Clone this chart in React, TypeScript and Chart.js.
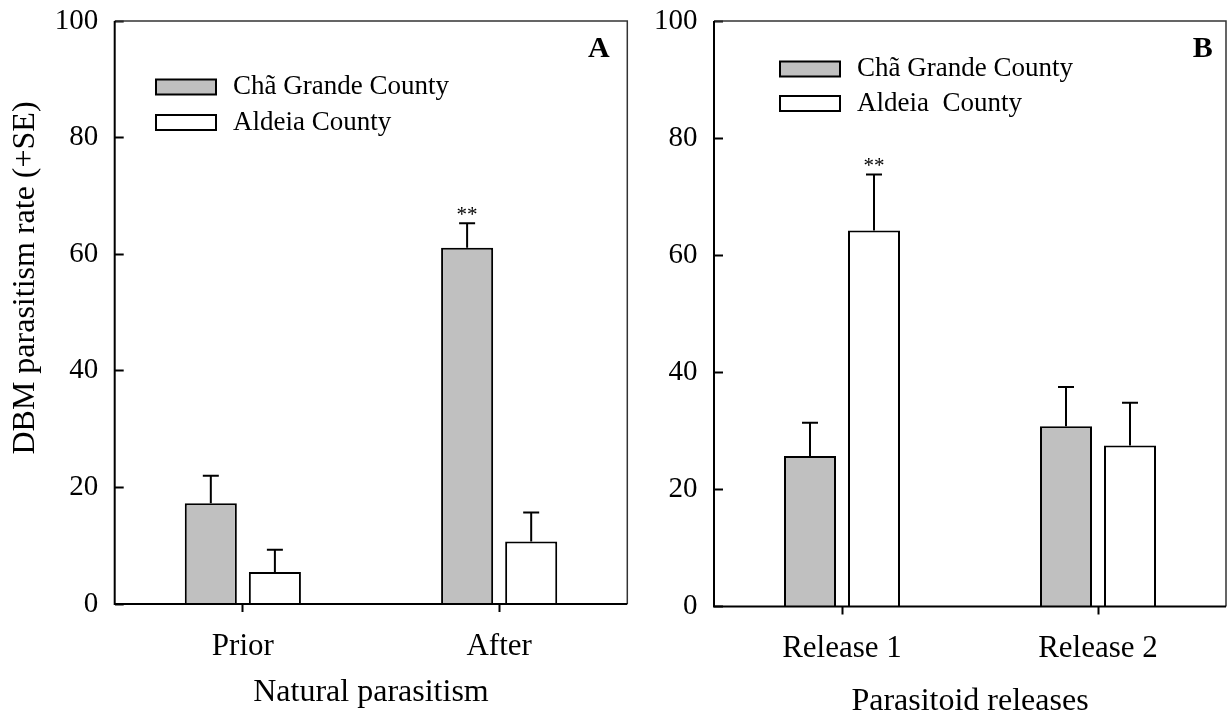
import React, { useEffect, useRef } from 'react';
import { Chart, registerables } from 'chart.js';

Chart.register(...registerables);

// ---------- data ----------
const categoriesA = ['Prior', 'After'];
const chaGrandeA = [17.3, 61.1];
const chaGrandeAErr = [4.7, 4.2];
const aldeiaA = [5.5, 10.7];
const aldeiaAErr = [3.8, 5.0];
const sigChaGrandeA = ['', '**'];
const sigAldeiaA = ['', ''];

const categoriesB = ['Release 1', 'Release 2'];
const chaGrandeB = [25.7, 30.8];
const chaGrandeBErr = [5.7, 6.7];
const aldeiaB = [64.2, 27.5];
const aldeiaBErr = [9.6, 7.3];
const sigChaGrandeB = ['', ''];
const sigAldeiaB = ['**', ''];

const yMin = 0;
const yMax = 100;
const yStep = 20;

const SERIF = '"Times New Roman", "Liberation Serif", serif';

const decorPlugin = {
  id: 'decor',
  afterDatasetsDraw(chart: any, _args: any, opts: any) {
    const ctx = chart.ctx;
    const ys = chart.scales.y;
    const a = chart.chartArea;
    ctx.save();
    // error bars + significance
    chart.data.datasets.forEach((ds: any, i: number) => {
      const meta = chart.getDatasetMeta(i);
      meta.data.forEach((bar: any, j: number) => {
        const v = ds.data[j];
        const e = ds.errors[j];
        const top = ys.getPixelForValue(v + e);
        ctx.strokeStyle = '#000';
        ctx.lineWidth = 2;
        ctx.beginPath();
        ctx.moveTo(bar.x, bar.y);
        ctx.lineTo(bar.x, top);
        ctx.moveTo(bar.x - 8, top);
        ctx.lineTo(bar.x + 8, top);
        ctx.stroke();
        if (ds.sig && ds.sig[j]) {
          ctx.font = `21px ${SERIF}`;
          ctx.textAlign = 'center';
          ctx.textBaseline = 'alphabetic';
          ctx.fillStyle = '#000';
          ctx.fillText(ds.sig[j], bar.x, top - 2);
        }
      });
    });
    // frame
    ctx.strokeStyle = '#333';
    ctx.lineWidth = 1.5;
    ctx.beginPath();
    ctx.moveTo(a.left, a.top);
    ctx.lineTo(a.right, a.top);
    ctx.lineTo(a.right, a.bottom);
    ctx.stroke();
    ctx.strokeStyle = '#000';
    ctx.lineWidth = 2;
    ctx.beginPath();
    ctx.moveTo(a.left, a.top);
    ctx.lineTo(a.left, a.bottom);
    ctx.lineTo(a.right, a.bottom);
    ctx.stroke();
    // legend
    chart.data.datasets.forEach((ds: any, i: number) => {
      const cy = a.top + opts.legendY[i];
      const bx = a.left + opts.legendX;
      ctx.fillStyle = ds.backgroundColor;
      ctx.fillRect(bx, cy - 7.5, 60, 15);
      ctx.strokeStyle = '#000';
      ctx.lineWidth = 2;
      ctx.strokeRect(bx, cy - 7.5, 60, 15);
      ctx.fillStyle = '#000';
      ctx.font = `27px ${SERIF}`;
      ctx.textAlign = 'left';
      ctx.textBaseline = 'middle';
      ctx.fillText(ds.label, bx + 77, cy);
    });
    // panel letter
    ctx.fillStyle = '#000';
    ctx.font = `bold 30px ${SERIF}`;
    ctx.textAlign = 'right';
    ctx.textBaseline = 'middle';
    ctx.fillText(opts.panel, a.right - opts.panelDx, a.top + 28);
    // y title
    if (opts.yTitle) {
      ctx.save();
      ctx.translate(opts.yTitleX, opts.yTitleY);
      ctx.rotate(-Math.PI / 2);
      ctx.font = `32px ${SERIF}`;
      ctx.textAlign = 'center';
      ctx.textBaseline = 'middle';
      ctx.fillText(opts.yTitle, 0, 0);
      ctx.restore();
    }
    ctx.restore();
  },
};

function makeConfig(labels: string[], datasets: any[], cfg: any) {
  return {
    type: 'bar',
    data: { labels, datasets },
    options: {
      responsive: false,
      animation: false,
      layout: { padding: { left: 0, right: cfg.padRight, top: 21, bottom: 0 } },
      datasets: { bar: { categoryPercentage: 0.5, barPercentage: 0.8125 } },
      plugins: {
        legend: { display: false },
        tooltip: { enabled: false },
        decor: cfg.decor,
      },
      scales: {
        x: {
          type: 'category',
          offset: true,
          grid: {
            display: true,
            offset: false,
            drawOnChartArea: false,
            drawTicks: true,
            tickLength: 8,
            tickWidth: 2,
            tickColor: '#000',
          },
          border: { display: false },
          ticks: { font: { family: SERIF, size: 31 }, color: '#000', padding: 16, maxRotation: 0 },
          title: {
            display: true,
            text: cfg.xTitle,
            color: '#000',
            font: { family: SERIF, size: 32, lineHeight: cfg.xTitleLH },
            padding: { top: 0, bottom: cfg.xTitlePB },
          },
          afterFit: (s: any) => {
            s.height = cfg.xHeight;
            s.paddingLeft = 0;
            s.paddingRight = 0;
          },
        },
        y: {
          min: yMin,
          max: yMax,
          ticks: { stepSize: yStep, font: { family: SERIF, size: 29 }, color: '#000', padding: 25.5 },
          grid: {
            drawOnChartArea: false,
            drawTicks: true,
            tickLength: -9,
            tickWidth: 2,
            tickColor: '#000',
          },
          border: { display: false },
          afterFit: (s: any) => {
            s.width = cfg.yWidth;
            s.paddingTop = 0;
            s.paddingBottom = 0;
          },
        },
      },
    },
    plugins: [decorPlugin],
  } as any;
}

export default function App() {
  const refA = useRef<HTMLCanvasElement>(null);
  const refB = useRef<HTMLCanvasElement>(null);

  useEffect(() => {
    const chartA = new Chart(
      refA.current as HTMLCanvasElement,
      makeConfig(
        categoriesA,
        [
          {
            label: 'Chã Grande County',
            data: chaGrandeA,
            errors: chaGrandeAErr,
            sig: sigChaGrandeA,
            backgroundColor: '#c0c0c0',
            borderColor: '#000',
            borderWidth: 2,
          },
          {
            label: 'Aldeia County',
            data: aldeiaA,
            errors: aldeiaAErr,
            sig: sigAldeiaA,
            backgroundColor: '#ffffff',
            borderColor: '#000',
            borderWidth: 2,
          },
        ],
        {
          padRight: 12.7,
          yWidth: 114.7,
          xHeight: 112,
          xTitle: 'Natural parasitism',
          xTitleLH: 1.2,
          xTitlePB: 4,
          decor: {
            legendX: 41.3,
            legendY: [66, 101.5],
            panel: 'A',
            panelDx: 17.6,
            yTitle: 'DBM parasitism rate (+SE)',
            yTitleX: 26,
            yTitleY: 278,
          },
        }
      )
    );
    const chartB = new Chart(
      refB.current as HTMLCanvasElement,
      makeConfig(
        categoriesB,
        [
          {
            label: 'Chã Grande County',
            data: chaGrandeB,
            errors: chaGrandeBErr,
            sig: sigChaGrandeB,
            backgroundColor: '#c0c0c0',
            borderColor: '#000',
            borderWidth: 2,
          },
          {
            label: 'Aldeia  County',
            data: aldeiaB,
            errors: aldeiaBErr,
            sig: sigAldeiaB,
            backgroundColor: '#ffffff',
            borderColor: '#000',
            borderWidth: 2,
          },
        ],
        {
          padRight: 2,
          yWidth: 74,
          xHeight: 109.5,
          xTitle: 'Parasitoid releases',
          xTitleLH: 0.8,
          xTitlePB: 1.2,
          decor: {
            legendX: 66,
            legendY: [48, 82.5],
            panel: 'B',
            panelDx: 13.3,
          },
        }
      )
    );
    return () => {
      chartA.destroy();
      chartB.destroy();
    };
  }, []);

  return (
    <div style={{ position: 'absolute', left: 0, top: 0, width: 1228, height: 716, background: '#fff' }}>
      <canvas ref={refA} width={640} height={716} style={{ position: 'absolute', left: 0, top: 0 }} />
      <canvas ref={refB} width={588} height={716} style={{ position: 'absolute', left: 640, top: 0 }} />
    </div>
  );
}
